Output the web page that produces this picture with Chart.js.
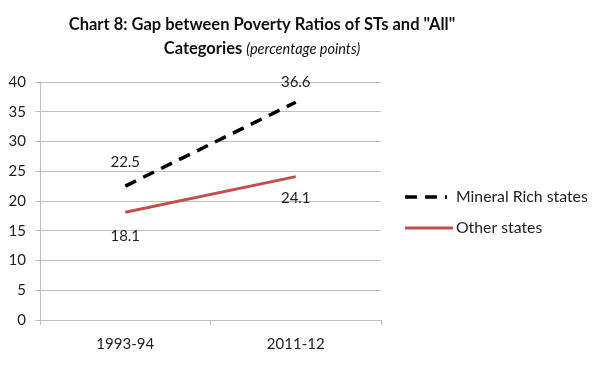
<!DOCTYPE html>
<html><head><meta charset="utf-8">
<script src="https://cdn.jsdelivr.net/npm/chart.js@4/dist/chart.umd.min.js"></script>
<style>html,body{margin:0;padding:0;background:#fff}#wrap{width:600px;height:392px}</style>
</head><body><div id="wrap"><canvas id="c" width="600" height="392"></canvas></div>
<script>
const categories = ["1993-94", "2011-12"];
const mineralRich = [22.5, 36.6];
const otherStates = [18.1, 24.1];
const seriesNames = ["Mineral Rich states", "Other states"];
const yTicks = [0, 5, 10, 15, 20, 25, 30, 35, 40];

const FONT = "Lato, 'Open Sans', sans-serif";

const decor = {
  id: 'decor',
  afterDraw(chart) {
    const ctx = chart.ctx;
    ctx.save();
    // Title
    ctx.fillStyle = '#111';
    ctx.textAlign = 'center';
    ctx.textBaseline = 'middle';
    ctx.font = "bold 16.5px " + FONT;
    ctx.fillText('Chart 8: Gap between Poverty Ratios of STs and "All"', 262, 25);
    const p1 = 'Categories ', p2 = '(percentage points)';
    ctx.font = "bold 16.5px " + FONT;
    const w1 = ctx.measureText(p1).width;
    ctx.font = "italic 14.5px " + FONT;
    const w2 = ctx.measureText(p2).width;
    let x0 = 262 - (w1 + w2) / 2;
    ctx.textAlign = 'left';
    ctx.font = "bold 16.5px " + FONT;
    ctx.fillText(p1, x0, 49);
    ctx.font = "italic 14.5px " + FONT;
    ctx.fillText(p2, x0 + w1, 49);
    // Data labels
    ctx.font = "15px " + FONT;
    ctx.fillStyle = '#222';
    ctx.textAlign = 'center';
    const offs = [[-24, -20], [24, 22]];
    chart.data.datasets.forEach((ds, di) => {
      const meta = chart.getDatasetMeta(di);
      meta.data.forEach((pt, i) => {
        ctx.fillText(ds.data[i].toFixed(1), pt.x, pt.y + offs[di][i]);
      });
    });
    // Legend
    const items = [
      {y: 197, color: '#000', dash: [12, 8], width: 3.5, x1: 405, x2: 447},
      {y: 228, color: '#c0504d', dash: [], width: 3, x1: 405, x2: 453}
    ];
    items.forEach((it, i) => {
      ctx.beginPath();
      ctx.setLineDash(it.dash);
      ctx.strokeStyle = it.color;
      ctx.lineWidth = it.width;
      ctx.moveTo(it.x1, it.y);
      ctx.lineTo(it.x2, it.y);
      ctx.stroke();
      ctx.setLineDash([]);
      ctx.fillStyle = '#222';
      ctx.textAlign = 'left';
      ctx.font = "15.8px " + FONT;
      ctx.fillText(seriesNames[i], 456, it.y);
    });
    ctx.restore();
  }
};

new Chart(document.getElementById('c'), {
  type: 'line',
  data: {
    labels: categories,
    datasets: [
      {label: seriesNames[0], data: mineralRich, borderColor: '#000', borderWidth: 3.5, borderDash: [12, 8], pointRadius: 0, fill: false, tension: 0},
      {label: seriesNames[1], data: otherStates, borderColor: '#c0504d', borderWidth: 3, pointRadius: 0, fill: false, tension: 0}
    ]
  },
  options: {
    responsive: false,
    animation: false,
    devicePixelRatio: 1,
    layout: {padding: {top: 82, right: 219, left: 0, bottom: 0}},
    plugins: {legend: {display: false}, title: {display: false}, tooltip: {enabled: false}},
    scales: {
      x: {
        offset: true,
        grid: {display: true, drawOnChartArea: false, drawTicks: true, tickLength: 5, color: '#bfbfbf', offset: true},
        border: {color: '#bfbfbf', width: 1},
        ticks: {font: {family: FONT, size: 15}, color: '#222', padding: 10},
        afterFit(s) { s.height = 72; }
      },
      y: {
        min: 0, max: 40,
        afterBuildTicks(s) { s.ticks = yTicks.map(v => ({value: v})); },
        grid: {color: '#bfbfbf', lineWidth: 1, tickLength: 5},
        border: {color: '#bfbfbf', width: 1},
        ticks: {font: {family: FONT, size: 15}, color: '#222', padding: 9},
        afterFit(s) { s.width = 40; }
      }
    }
  },
  plugins: [decor]
});
</script></body></html>
